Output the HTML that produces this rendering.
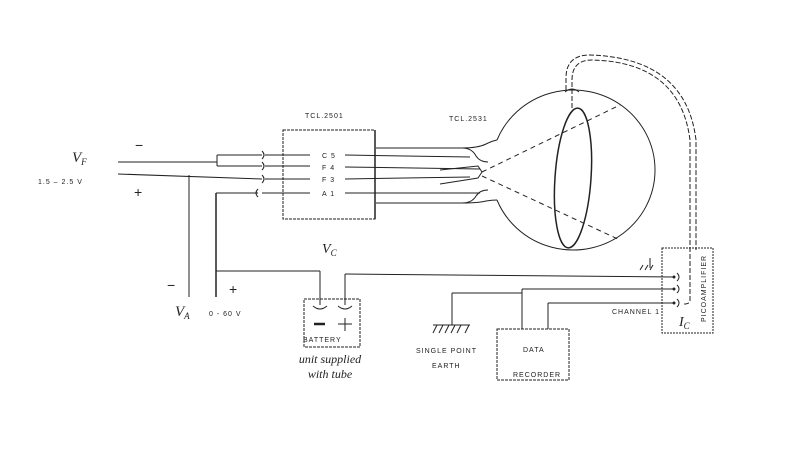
<!DOCTYPE html>
<html><head><style>
html,body{margin:0;padding:0;background:#fff;}
svg{display:block;}
text{font-family:"Liberation Sans",sans-serif;fill:#222;}
.s{font-size:7px;letter-spacing:1px;}
.i{font-family:"Liberation Serif",serif;font-style:italic;}
</style></head><body>
<svg width="786" height="459" viewBox="0 0 786 459" xmlns="http://www.w3.org/2000/svg">
<g stroke="#222" stroke-width="1" fill="none">
<line x1="118" y1="162" x2="217" y2="162"/>
<line x1="217" y1="155" x2="217" y2="166"/>
<line x1="217" y1="155" x2="262" y2="155"/>
<line x1="217" y1="166" x2="262" y2="166"/>
<line x1="118" y1="174" x2="262" y2="179"/>
<line x1="189" y1="175" x2="189" y2="297"/>
<line x1="216" y1="193" x2="216" y2="297" stroke-width="1.5"/>
<line x1="216" y1="193" x2="258" y2="193"/>
<path d="M262 151 q4 4 0 8 M262 162 q4 4 0 8 M262 175 q4 4 0 8 M258 189 q-4 4 0 8"/>
<line x1="265" y1="155" x2="310" y2="155"/>
<line x1="265" y1="166" x2="310" y2="166"/>
<line x1="265" y1="179" x2="310" y2="179"/>
<line x1="262" y1="193" x2="310" y2="193"/>
<rect x="283" y="130" width="92" height="89" stroke-dasharray="3,1"/>
<line x1="375" y1="130" x2="375" y2="219" stroke-width="1.5"/>
<line x1="345" y1="155" x2="470" y2="157"/>
<line x1="345" y1="167" x2="480" y2="169"/>
<line x1="345" y1="179" x2="470" y2="177"/>
<line x1="345" y1="193" x2="480" y2="193"/>
<path d="M376 148 L462 148 Q472 148 476 156 Q480 162 488 162"/>
<path d="M376 203 L462 203 Q472 203 476 196 Q480 190 488 190"/>
<path d="M462 148 Q478 148 486 144 Q492 141 497 140"/>
<path d="M462 203 Q478 203 486 201 Q492 200 497 200"/>
<path d="M440 170 L478 166 L482 172 L478 178 L440 184"/>
<path d="M497 140 A82 80 0 1 1 497 200"/>
<ellipse cx="573" cy="178" rx="18" ry="70" transform="rotate(4 573 178)" stroke-width="1.5"/>
<line x1="482" y1="172" x2="620" y2="105" stroke-dasharray="5,4"/>
<line x1="482" y1="176" x2="620" y2="240" stroke-dasharray="5,4"/>
<path d="M572 108 L572 80 Q572 60 592 60 Q680 62 690 140 L690 300 Q690 304 684 304" stroke-dasharray="5,2"/>
<path d="M566 90 L566 78 Q566 55 590 55 Q686 58 696 140 L696 250" stroke-dasharray="5,2"/>
<path d="M565 92 q7 -6 14 0"/>
<line x1="216" y1="271" x2="320" y2="271"/>
<line x1="320" y1="271" x2="320" y2="305"/>
<line x1="345" y1="274" x2="345" y2="305"/>
<line x1="345" y1="274" x2="674" y2="277"/>
<rect x="304" y="299" width="56" height="48" stroke-dasharray="3,1"/>
<path d="M313 306 q7 6 14 0 M338 306 q7 6 14 0"/>
<line x1="314" y1="324" x2="325" y2="324" stroke-width="2.5"/>
<line x1="338" y1="324" x2="352" y2="324"/><line x1="345" y1="318" x2="345" y2="331"/>
<rect x="662" y="248" width="51" height="85" stroke-dasharray="2,1"/>
<line x1="522" y1="289" x2="674" y2="289"/>
<line x1="548" y1="303" x2="674" y2="303"/>
<path d="M677 273 q4 4 0 8 M677 285 q4 4 0 8 M677 299 q4 4 0 8"/>
<line x1="522" y1="289" x2="522" y2="329"/>
<line x1="548" y1="303" x2="548" y2="329"/>
<rect x="497" y="329" width="72" height="51" stroke-dasharray="3,1"/>
<line x1="452" y1="293" x2="522" y2="293"/>
<line x1="452" y1="293" x2="452" y2="325"/>
<line x1="433" y1="325" x2="470" y2="325"/>
<path d="M433 333 l4 -8 M439 333 l4 -8 M445 333 l4 -8 M451 333 l4 -8 M457 333 l4 -8 M465 333 l4 -8"/>
<path d="M640 270 l3 -5 M645 270 l3 -5 M650 270 l3 -5 M650 268 l0 -10"/>
</g>
<g fill="#222">
<circle cx="674" cy="277" r="1.5"/><circle cx="674" cy="289" r="1.5"/><circle cx="674" cy="303" r="1.5"/>
</g>
<text x="72" y="162" class="i" font-size="15">V<tspan font-size="9" dy="3">F</tspan></text>
<text x="38" y="184" class="s" font-size="6">1.5 – 2.5 V</text>
<text x="135" y="150" font-size="14">−</text>
<text x="134" y="197" font-size="14">+</text>
<text x="167" y="290" font-size="14">−</text>
<text x="229" y="294" font-size="14">+</text>
<text x="175" y="316" class="i" font-size="15">V<tspan font-size="9" dy="3">A</tspan></text>
<text x="209" y="316" class="s">0 - 60 V</text>
<text x="322" y="253" class="i" font-size="14">V<tspan font-size="9" dy="3">C</tspan></text>
<text x="303" y="342" class="s" font-size="6">BATTERY</text>
<text x="330" y="363" class="i" font-size="12" text-anchor="middle">unit supplied</text>
<text x="330" y="378" class="i" font-size="12" text-anchor="middle">with tube</text>
<text x="305" y="118" class="s" font-size="6">TCL.2501</text>
<text x="449" y="121" class="s" font-size="6">TCL.2531</text>
<text x="322" y="158" class="s">C 5</text>
<text x="322" y="170" class="s">F 4</text>
<text x="322" y="182" class="s">F 3</text>
<text x="322" y="196" class="s">A 1</text>
<text x="416" y="353" class="s" font-size="6">SINGLE POINT</text>
<text x="432" y="368" class="s" font-size="6">EARTH</text>
<text x="612" y="314" class="s" font-size="6">CHANNEL 1</text>
<text x="523" y="352" class="s" font-size="6">DATA</text>
<text x="513" y="377" class="s" font-size="6">RECORDER</text>
<text x="679" y="326" class="i" font-size="14">I<tspan font-size="9" dy="3">C</tspan></text>
<text transform="translate(706 322) rotate(-90)" class="s" font-size="7">PICOAMPLIFIER</text>
</svg>
</body></html>
